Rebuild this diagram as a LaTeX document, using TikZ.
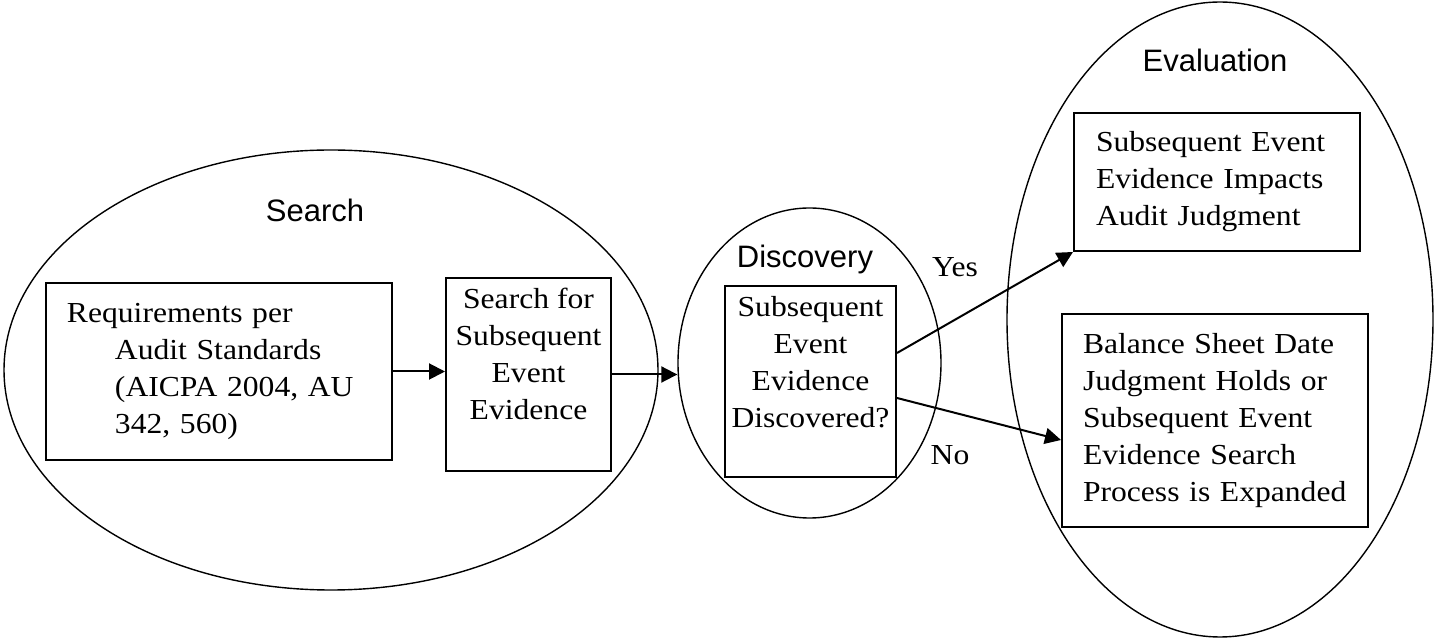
\documentclass[tikz,border=0pt]{standalone}
\usepackage{fontspec}
\setmainfont{Liberation Serif}[FakeStretch=1.09]
\setsansfont{Liberation Sans}
\usetikzlibrary{shapes.geometric,arrows.meta}

\newcommand{\boxfont}{\fontsize{14.5}{18.5}\selectfont}
\newcommand{\labfont}{\sffamily\fontsize{15.5}{18}\selectfont}
\newcommand{\toptext}[3]{\parbox[c][#2][t]{#1}{\centering\vspace*{5pt}#3}}

\tikzset{
  phase/.style={ellipse, draw, line width=0.7pt, inner sep=0pt},
  stepbox/.style={rectangle, draw, line width=1pt, font=\boxfont},
  plainbox/.style={stepbox, inner sep=0pt},
  phaselabel/.style={font=\labfont, anchor=base},
  answer/.style={font=\boxfont, anchor=base},
  flow/.style={-{Triangle[length=8pt,width=8pt]}, line width=1pt},
}

\begin{document}
\begin{tikzpicture}[x=0.5pt,y=-0.5pt]
\useasboundingbox (0,0) rectangle (1437,641);
\node[phase, minimum width=327pt, minimum height=220pt] (search) at (331,370) {};
\node[phase, minimum width=131.5pt, minimum height=155pt] (discov) at (809.5,363) {};
\node[phase, minimum width=213pt, minimum height=317.5pt] (evalu) at (1220,319.5) {};

\node[phaselabel] (searchlab) at (315,222) {Search};
\node[phaselabel] (discovlab) at (805,268) {Discovery};
\node[phaselabel] (evallab) at (1215,72) {Evaluation};

\node[stepbox, inner xsep=10.5pt, text width=152pt, minimum height=88.5pt, align=left] (req) at (219,371.5)
  {Requirements per\\\hspace*{24pt}Audit Standards\\\hspace*{24pt}(AICPA 2004, AU\\\hspace*{24pt}342, 560)};
\node[plainbox] (sfor) at (528.5,374.5) {\toptext{82.5pt}{96.5pt}{Search for\\Subsequent\\Event\\Evidence}};
\node[plainbox] (disc) at (810.5,381.5) {\toptext{85.5pt}{95.5pt}{Subsequent\\Event\\Evidence\\Discovered?}};
\node[stepbox, inner xsep=11pt, text width=121pt, minimum height=69pt, align=left] (evtop) at (1217,182)
  {Subsequent Event\\Evidence Impacts\\Audit Judgment};
\node[stepbox, inner xsep=10.5pt, text width=132pt, minimum height=106.5pt, align=left] (evbot) at (1215,420.5)
  {Balance Sheet Date\\Judgment Holds or\\Subsequent Event\\Evidence Search\\Process is Expanded};

\node[answer] (yes) at (955,277) {Yes};
\node[answer] (no) at (950,465) {No};

\draw[flow] (req.east) -- (req.east -| sfor.west);
\draw[flow] (sfor.east) -- (sfor.east -| discov.west);
\draw[flow] ([yshift=14.25pt]disc.east) -- (evtop.south west);
\draw[flow] ([yshift=-8.25pt]disc.east) -- ([yshift=-9.75pt]evbot.west);
\end{tikzpicture}
\end{document}
